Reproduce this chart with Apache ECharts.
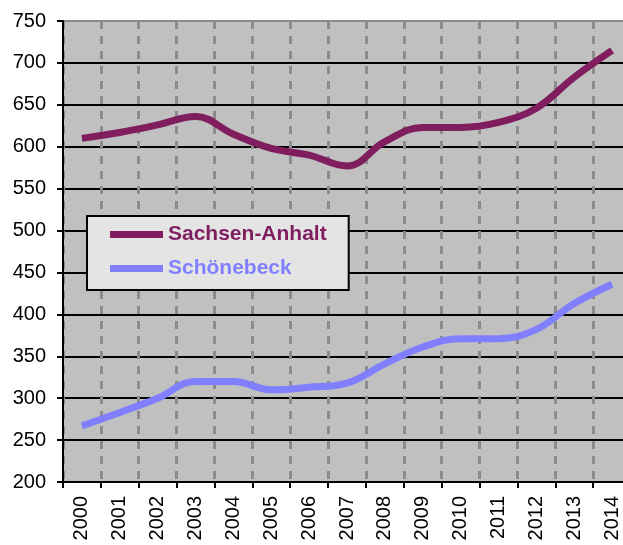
<!DOCTYPE html>
<html>
<head>
<meta charset="utf-8">
<script src="https://cdn.jsdelivr.net/npm/echarts@6/dist/echarts.min.js"></script>
<style>
  html, body { margin: 0; padding: 0; background: #fff; }
  #chart { width: 623px; height: 545px; }
</style>
</head>
<body>
<div id="chart"></div>
<script>
const years = ['2000', '2001', '2002', '2003', '2004', '2005', '2006', '2007',
  '2008', '2009', '2010', '2011', '2012', '2013', '2014']
const sachsenAnhalt = [610, 617, 626, 636, 615, 598, 590, 577, 606, 623, 623, 629, 646, 683, 715]
const schoenebeck = [267, 283, 300, 320, 320, 310, 313, 318, 341, 361, 371, 371, 382, 413, 436]

const font = '"Liberation Sans", Arial, sans-serif'
const colorSA = '#7f1d5f'
const colorSB = '#8080ff'

// horizontal grid lines are black, the top one is the gray plot border
const hLineColors = []
for (let v = 200; v <= 750; v += 50) hLineColors.push(v === 750 ? '#8a8a8a' : '#000')

const chart = echarts.init(document.getElementById('chart'), null, { renderer: 'canvas' })

const option = {
  animation: false,
  backgroundColor: '#fff',
  grid: {
    left: 63,
    top: 21,
    width: 568,
    height: 461,
    outerBoundsMode: 'none',
    containLabel: false,
    show: true,
    backgroundColor: '#c0c0c0',
    borderWidth: 0,
  },
  legend: {
    left: 87,
    top: 216,
    orient: 'vertical',
    backgroundColor: '#e4e4e4',
    borderColor: '#000',
    borderWidth: 2,
    borderRadius: 0,
    padding: [8, 22, 11, 23],
    itemGap: 13,
    itemWidth: 53,
    itemHeight: 7,
    icon: 'rect',
    textStyle: {
      fontFamily: font,
      fontSize: 21,
      fontWeight: 'bold',
    },
    data: [
      { name: 'Sachsen-Anhalt', textStyle: { color: colorSA } },
      { name: 'Schönebeck', textStyle: { color: colorSB } },
    ],
  },
  xAxis: {
    type: 'category',
    data: years,
    boundaryGap: true,
    axisLine: { lineStyle: { color: '#000', width: 2 } },
    axisTick: { show: true, length: 6, lineStyle: { color: '#000', width: 2 } },
    axisLabel: {
      rotate: 90,
      margin: 14,
      interval: 0,
      color: '#000',
      fontFamily: font,
      fontSize: 20,
    },
    splitLine: {
      show: true,
      interval: 0,
      lineStyle: { color: '#8c8c8c', width: 3, type: [8, 7] },
    },
  },
  yAxis: {
    type: 'value',
    min: 200,
    max: 750,
    interval: 50,
    axisLine: { show: true, lineStyle: { color: '#000', width: 2 } },
    axisTick: { show: true, length: 6, lineStyle: { color: '#000', width: 2 } },
    axisLabel: {
      margin: 17,
      color: '#000',
      fontFamily: font,
      fontSize: 20,
    },
    splitLine: {
      show: true,
      lineStyle: { color: hLineColors, width: 2 },
    },
  },
  series: [
    {
      name: 'Sachsen-Anhalt',
      type: 'line',
      data: sachsenAnhalt,
      smooth: 0.4,
      symbol: 'none',
      itemStyle: { color: colorSA },
      lineStyle: { color: colorSA, width: 7 },
    },
    {
      name: 'Schönebeck',
      type: 'line',
      data: schoenebeck,
      smooth: 0.4,
      symbol: 'none',
      itemStyle: { color: colorSB },
      lineStyle: { color: colorSB, width: 7 },
    },
  ],
}

chart.setOption(option)
</script>
</body>
</html>
